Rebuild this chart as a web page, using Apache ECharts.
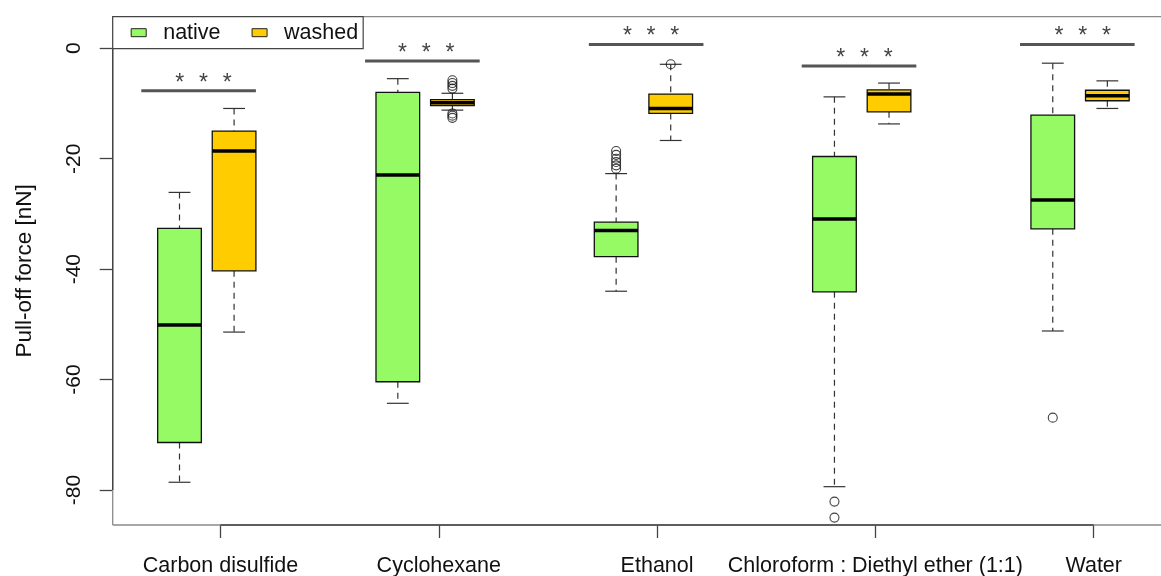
<!DOCTYPE html>
<html><head><meta charset="utf-8">
<script src="https://cdn.jsdelivr.net/npm/echarts@6/dist/echarts.min.js"></script>
<style>html,body{margin:0;padding:0;background:#fff}#c{width:1161px;height:576px}</style>
</head><body><div id="c"></div>
<script>
// ---------- data ----------
const categories = ['Carbon disulfide', 'Cyclohexane', 'Ethanol', 'Chloroform : Diethyl ether (1:1)', 'Water'];
const yTicks = [0, -20, -40, -60, -80];
// [lower whisker, Q1, median, Q3, upper whisker]
const nativeStats = [
  [-78.6, -71.4, -50.1, -32.6, -26.1],
  [-64.3, -60.4, -22.95, -8.0, -5.5],
  [-44.0, -37.75, -33.0, -31.5, -22.7],
  [-79.4, -44.1, -30.9, -19.6, -8.8],
  [-51.2, -32.7, -27.5, -12.1, -2.7]
];
const washedStats = [
  [-51.4, -40.3, -18.6, -15.0, -10.9],
  [-11.2, -10.4, -9.85, -9.3, -8.15],
  [-16.7, -11.8, -10.9, -8.3, -2.9],
  [-13.7, -11.5, -8.3, -7.55, -6.3],
  [-10.9, -9.5, -8.6, -7.6, -5.9]
];
const nativeOutliers = [[], [], [-18.6, -19.3, -20.0, -20.6, -21.2, -21.8], [-82.1, -85.0], [-66.9]];
const washedOutliers = [[], [-5.8, -6.3, -6.8, -7.3, -11.8, -12.2, -12.6], [-2.9], [], []];
const sigLevel = [-7.7, -2.3, 0.7, -3.2, 0.7];
const sigFrom = [0.3, 4.4, 8.5, 12.4, 16.4];
const sigTo = [2.4, 6.5, 10.6, 14.5, 18.5];
const sigStarAt = [1.44, 5.52, 9.64, 13.55, 17.55];
const seriesNames = ['native', 'washed'];

// ---------- layout helpers ----------
const nativePos = categories.map((c, i) => 4 * i + 1);
const washedPos = categories.map((c, i) => 4 * i + 2);
const tickPos = categories.map((c, i) => 4 * i + 1.75);
const X_MIN = -0.224, X_MAX = 18.983, Y_MIN = -86.34, Y_MAX = 5.72;
const FONT = 'Liberation Sans, Arial, sans-serif';

function boxRender(params, api) {
  const x = api.value(0);
  const lw = api.value(1), q1 = api.value(2), med = api.value(3), q3 = api.value(4), uw = api.value(5);
  const half = api.size([0.8, 0])[0] / 2;
  const cap = half / 2;
  const cx = api.coord([x, q3])[0];
  const yq3 = api.coord([x, q3])[1], yq1 = api.coord([x, q1])[1];
  const ym = api.coord([x, med])[1], ylw = api.coord([x, lw])[1], yuw = api.coord([x, uw])[1];
  const color = api.visual('color');
  const dash = { stroke: '#333', lineWidth: 1.2, lineDash: [6, 5] };
  const solid = { stroke: '#333', lineWidth: 1.2 };
  return {
    type: 'group', children: [
      { type: 'line', shape: { x1: cx, y1: yuw, x2: cx, y2: yq3 }, style: dash },
      { type: 'line', shape: { x1: cx, y1: yq1, x2: cx, y2: ylw }, style: dash },
      { type: 'line', shape: { x1: cx - cap, y1: yuw, x2: cx + cap, y2: yuw }, style: solid },
      { type: 'line', shape: { x1: cx - cap, y1: ylw, x2: cx + cap, y2: ylw }, style: solid },
      { type: 'rect', shape: { x: cx - half, y: yq3, width: 2 * half, height: yq1 - yq3 }, style: { fill: color, stroke: '#111', lineWidth: 1.3 } },
      { type: 'line', shape: { x1: cx - half, y1: ym, x2: cx + half, y2: ym }, style: { stroke: '#000', lineWidth: 3.5 } }
    ]
  };
}

function sigRender(params, api) {
  const a = api.coord([api.value(0), api.value(2)]);
  const b = api.coord([api.value(1), api.value(2)]);
  const s = api.coord([api.value(3), api.value(2)]);
  const children = [{ type: 'line', shape: { x1: a[0], y1: a[1], x2: b[0], y2: b[1] }, style: { stroke: '#555', lineWidth: 3 } }];
  [-23.7, 0, 23.7].forEach(dx => children.push({
    type: 'text', x: s[0] + dx, y: s[1] - 7.5,
    style: { text: '*', textAlign: 'center', textVerticalAlign: 'middle', fontSize: 23, fontFamily: FONT, fill: '#444' }
  }));
  return { type: 'group', children };
}

// plot frame (light) and axis lines spanning first..last tick (dark)
function frameRender(params, api) {
  if (params.dataIndex !== 0) return null;
  const tl = api.coord([X_MIN, Y_MAX]);
  const bl = api.coord([X_MIN, Y_MIN]);
  const tr = api.coord([X_MAX, Y_MAX]);
  const br = api.coord([X_MAX, Y_MIN]);
  const p0 = api.coord([tickPos[0], Y_MIN]);
  const p1 = api.coord([tickPos[tickPos.length - 1], Y_MIN]);
  const q0 = api.coord([X_MIN, yTicks[0]]);
  const q1 = api.coord([X_MIN, yTicks[yTicks.length - 1]]);
  const light = { stroke: '#8a8a8a', lineWidth: 1.3 };
  const dark = { stroke: '#444', lineWidth: 1.4 };
  return {
    type: 'group', children: [
      { type: 'line', shape: { x1: tl[0], y1: tl[1], x2: tr[0] + 5, y2: tr[1] }, style: light },
      { type: 'line', shape: { x1: tl[0], y1: tl[1], x2: bl[0], y2: bl[1] }, style: light },
      { type: 'line', shape: { x1: bl[0], y1: bl[1], x2: br[0] + 5, y2: br[1] }, style: light },
      { type: 'line', shape: { x1: p0[0], y1: p0[1], x2: p1[0], y2: p1[1] }, style: dark },
      { type: 'line', shape: { x1: q0[0], y1: q0[1], x2: q1[0], y2: q1[1] }, style: dark }
    ]
  };
}

const nativeData = nativeStats.map((s, i) => [nativePos[i]].concat(s));
const washedData = washedStats.map((s, i) => [washedPos[i]].concat(s));
const outlierData = [];
nativeOutliers.forEach((arr, i) => arr.forEach(v => outlierData.push([nativePos[i], v])));
washedOutliers.forEach((arr, i) => arr.forEach(v => outlierData.push([washedPos[i], v])));
const sigData = sigLevel.map((l, i) => [sigFrom[i], sigTo[i], l, sigStarAt[i]]);

const chart = echarts.init(document.getElementById('c'), null, { renderer: 'canvas' });
chart.setOption({
  animation: false,
  backgroundColor: '#fff',
  textStyle: { fontFamily: FONT },
  grid: { left: 112.7, top: 16.7, right: 0, bottom: 51, show: false, containLabel: false, outerBoundsMode: 'none' },
  legend: {
    data: seriesNames, left: 112.7, top: 16.7, orient: 'horizontal', icon: 'rect',
    itemWidth: 15, itemHeight: 8, itemGap: 31, padding: [5, 5, 5, 18],
    borderColor: '#444', borderWidth: 1.2, backgroundColor: '#fff',
    textStyle: { fontSize: 21.5, color: '#111', fontFamily: FONT, padding: [0, 0, 0, 12] },
    itemStyle: { borderColor: '#222', borderWidth: 1 }
  },
  xAxis: {
    type: 'value', min: X_MIN, max: X_MAX,
    axisLine: { show: false, onZero: false }, splitLine: { show: false },
    axisTick: { show: true, customValues: tickPos, length: 13, lineStyle: { color: '#444', width: 1.3 } },
    axisLabel: { customValues: tickPos, formatter: v => categories[Math.round((v - 1.75) / 4)], fontSize: 21.5, margin: 30, color: '#111', fontFamily: FONT }
  },
  yAxis: {
    type: 'value', min: Y_MIN, max: Y_MAX,
    axisLine: { show: false, onZero: false }, splitLine: { show: false },
    axisTick: { show: true, customValues: yTicks, length: 13, lineStyle: { color: '#444', width: 1.3 } },
    axisLabel: { customValues: yTicks, rotate: 90, fontSize: 21, margin: 28, color: '#111', fontFamily: FONT },
    name: 'Pull-off force [nN]', nameLocation: 'middle', nameRotate: 90, nameGap: 76,
    nameTextStyle: { fontSize: 22.5, color: '#111', fontFamily: FONT }
  },
  series: [
    { type: 'custom', name: 'frame', renderItem: frameRender, data: [[X_MIN, Y_MIN]], clip: false, z: 1, silent: true },
    { type: 'custom', name: 'native', renderItem: boxRender, data: nativeData, encode: { x: 0, y: [1, 2, 3, 4, 5] }, itemStyle: { color: '#96FA64' }, z: 3 },
    { type: 'custom', name: 'washed', renderItem: boxRender, data: washedData, encode: { x: 0, y: [1, 2, 3, 4, 5] }, itemStyle: { color: '#FFCC00' }, z: 3 },
    { type: 'scatter', name: 'outliers', data: outlierData, symbol: 'circle', symbolSize: 9, itemStyle: { color: 'rgba(0,0,0,0)', borderColor: '#111', borderWidth: 1.1 }, z: 4 },
    { type: 'custom', name: 'significance', renderItem: sigRender, data: sigData, encode: { x: [0, 1], y: 2 }, clip: false, z: 5 }
  ]
});
</script>
</body></html>
